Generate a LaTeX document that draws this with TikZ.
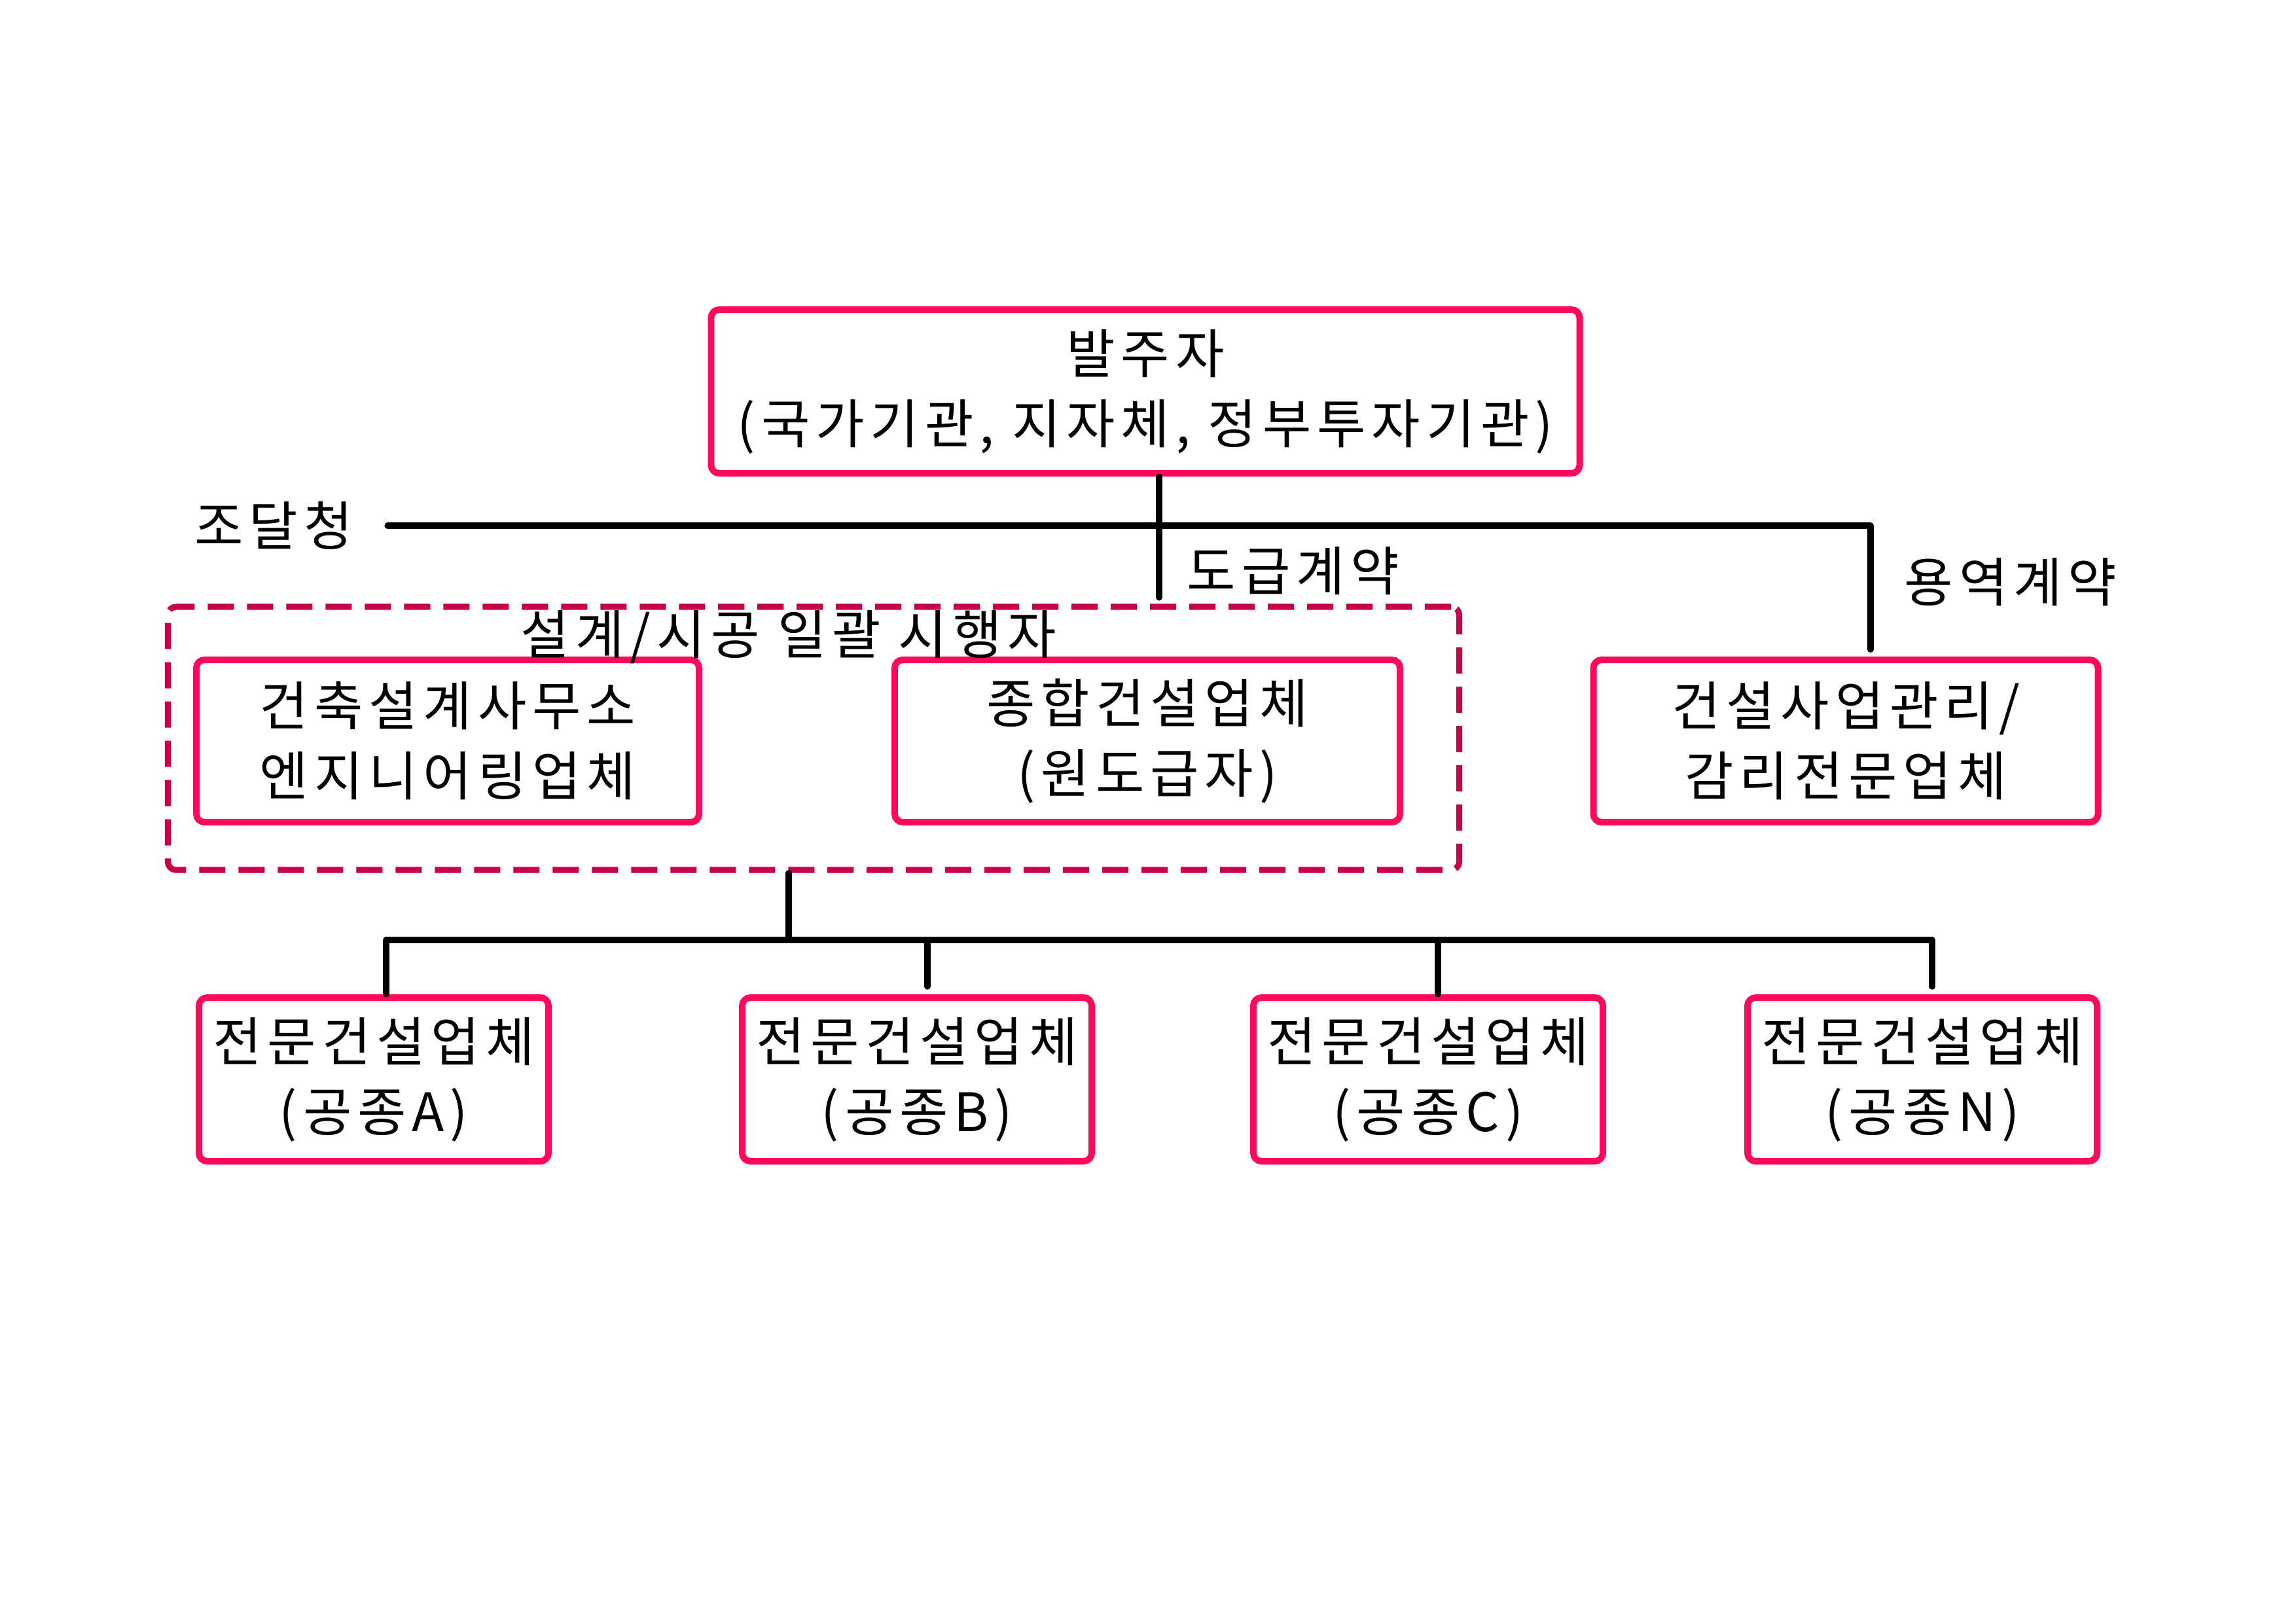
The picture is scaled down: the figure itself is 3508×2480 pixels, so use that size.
\documentclass[tikz,border=0pt]{standalone}
\usepackage{fontspec}
\setmainfont{Noto Sans CJK KR}[LetterSpace=11]
\definecolor{boxred}{RGB}{255,10,90}
\definecolor{grpred}{RGB}{200,0,75}
\newlength\pxu
\setlength\pxu{0.0084664cm}

\begin{document}
\begin{tikzpicture}[x=\pxu,y=-\pxu,
    box/.style={draw=boxred,line width=2.4pt,rounded corners=3pt,inner sep=0pt,
        align=center,font=\fontsize{19.5}{25.8}\selectfont},
    grpbox/.style={draw=grpred,line width=2.2pt,rounded corners=3pt,inner sep=0pt,
        dash pattern=on 0.339cm off 0.169cm},
    lbl/.style={inner sep=0pt,font=\fontsize{19.5}{25.8}\selectfont},
    conn/.style={line width=2.2pt,line cap=round,line join=round}]
    \useasboundingbox (0,0) rectangle (3508,2480);

    % 발주자 / 설계시공 일괄 / 용역
    \node[box,minimum width=1327\pxu,minimum height=250\pxu] (owner) at (1750,598)
        {발주자\\(국가기관, 지자체, 정부투자기관)};
    \node[grpbox,minimum width=1973\pxu,minimum height=402\pxu] (grp) at (1243,1128) {};
    \node[box,minimum width=768\pxu,minimum height=248\pxu] (arch) at (684,1132)
        {건축설계사무소\\엔지니어링업체};
    \node[box,minimum width=772\pxu,minimum height=248\pxu] (gc) at (1753,1132)
        {종합건설업체\\(원도급자)};
    \node[box,minimum width=771\pxu,minimum height=248\pxu] (pm) at (2820,1132)
        {건설사업관리/\\감리전문업체};

    \node[lbl] (jodal) at (418,803) {조달청};
    \node[lbl] (dogeup) at (1976,872) {도급계약};
    \node[lbl] (yongyeok) at (3072,889) {용역계약};
    \node[lbl] (ilgwal) at (1205,973) {설계/시공 일괄 시행자};

    % 전문건설업체
    \foreach \g/\cx/\dx in {A/571/590,B/1401/1417,C/2182/2197,N/2937/2952}
    {
        \node[box,minimum width=534\pxu,minimum height=250\pxu] (sub\g) at (\cx,1649)
            {전문건설업체\\(공종\g)};
        \coordinate (d\g) at (\dx,1436);
    }

    \coordinate (tL) at (592,803);
    \coordinate (tM) at (1771,803);
    \coordinate (tD) at (1771,913);
    \coordinate (tR) at (2858,803);
    \coordinate (bM) at (1205,1436);

    \draw[conn] (owner.south -| tM) -- (tD);
    \draw[conn,shorten >=0.09cm] (tL) -- (tR) -- (tR |- pm.north);
    \draw[conn] (grp.south -| bM) -- (bM);
    \draw[conn,shorten >=0.1cm] (subA.north -| dA) -- (dA) -- (dN) -- (subN.north -| dN);
    \draw[conn,shorten >=0.1cm] (dB) -- (subB.north -| dB);
    \draw[conn] (dC) -- (subC.north -| dC);
\end{tikzpicture}
\end{document}
